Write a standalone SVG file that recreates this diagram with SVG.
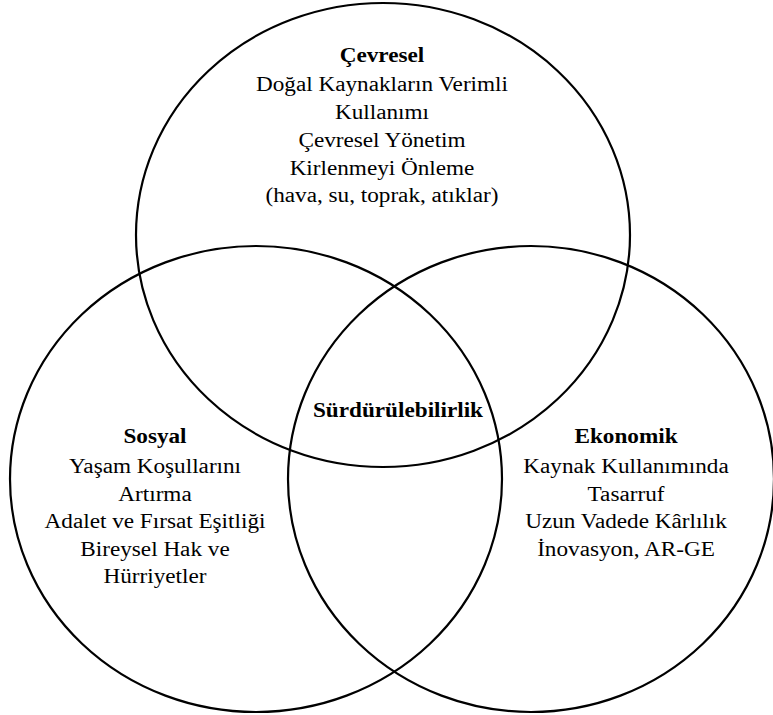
<svg xmlns="http://www.w3.org/2000/svg" width="773" height="715" viewBox="0 0 773 715">
<style>
.c{fill:none;stroke:#000;stroke-width:2.2}
text{font-family:"Liberation Serif","Times New Roman",serif;font-size:20px;fill:#000;text-anchor:middle}
.b{font-weight:bold}
</style>
<rect width="773" height="715" fill="#fff"/>
<g id="connectors"></g>
<g id="cevresel">
<ellipse class="c" cx="383" cy="235" rx="247" ry="232"/>
<g transform="translate(382,0) scale(1.16,1)">
<text x="0" y="62" class="b">Çevresel</text>
<text x="0" y="91">Doğal Kaynakların Verimli</text>
<text x="0" y="119">Kullanımı</text>
<text x="0" y="147">Çevresel Yönetim</text>
<text x="0" y="175">Kirlenmeyi Önleme</text>
<text x="0" y="202">(hava, su, toprak, atıklar)</text>
</g>
</g>
<g id="sosyal">
<ellipse class="c" cx="256" cy="479" rx="246" ry="233"/>
<g transform="translate(155,0) scale(1.16,1)">
<text x="0" y="443" class="b">Sosyal</text>
<text x="0" y="473">Yaşam Koşullarını</text>
<text x="0" y="501">Artırma</text>
<text x="0" y="528">Adalet ve Fırsat Eşitliği</text>
<text x="0" y="556">Bireysel Hak ve</text>
<text x="0" y="583">Hürriyetler</text>
</g>
</g>
<g id="ekonomik">
<ellipse class="c" cx="531" cy="479" rx="243" ry="233"/>
<g transform="translate(626,0) scale(1.16,1)">
<text x="0" y="443" class="b">Ekonomik</text>
<text x="0" y="473">Kaynak Kullanımında</text>
<text x="0" y="501">Tasarruf</text>
<text x="0" y="528">Uzun Vadede Kârlılık</text>
<text x="0" y="556">İnovasyon, AR-GE</text>
</g>
</g>
<g id="surdurulebilirlik">
<g transform="translate(398,0) scale(1.16,1)">
<text x="0" y="417" class="b">Sürdürülebilirlik</text>
</g>
</g>
</svg>
